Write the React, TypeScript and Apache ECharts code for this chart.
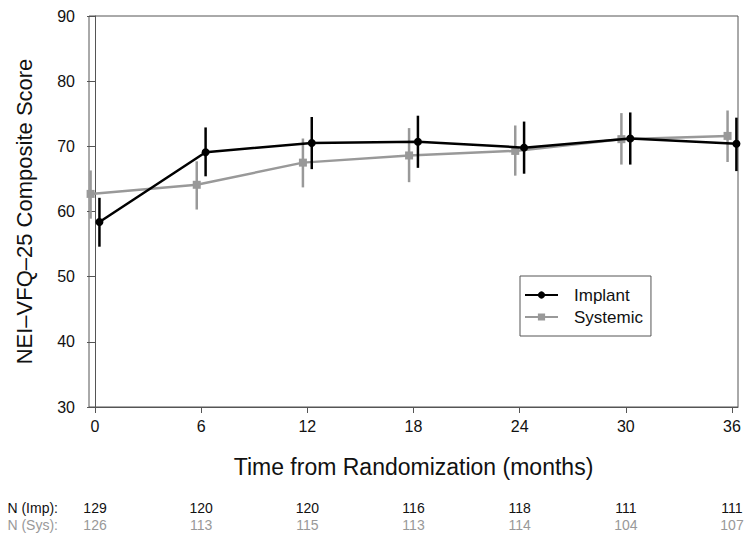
import React, { useEffect, useRef } from "react";
import * as echarts from "echarts";

const months = [0, 6, 12, 18, 24, 30, 36];
const implantMean = [58.4, 69.1, 70.5, 70.7, 69.8, 71.2, 70.4];
const implantLow = [54.6, 65.4, 66.5, 66.7, 65.8, 67.2, 66.2];
const implantHigh = [62.1, 72.9, 74.5, 74.7, 73.8, 75.2, 74.4];
const systemicMean = [62.7, 64.1, 67.5, 68.6, 69.3, 71.1, 71.6];
const systemicLow = [58.9, 60.3, 63.7, 64.5, 65.5, 67.2, 67.6];
const systemicHigh = [66.3, 67.7, 71.2, 72.8, 73.2, 75.1, 75.5];
const nImp = [129, 120, 120, 116, 118, 111, 111];
const nSys = [126, 113, 115, 113, 114, 104, 107];
const yTicks = [30, 40, 50, 60, 70, 80, 90];

const FONT = "'Liberation Sans', Arial, Helvetica, sans-serif";
const BLACK = "#000000";
const GREY = "#999999";
const IMP_OFFSET = 0.25;
const SYS_OFFSET = -0.25;

function errorBars(offset: number, low: number[], high: number[], color: string) {
  return {
    type: "custom",
    silent: true,
    z: color === BLACK ? 4 : 2,
    data: months.map((m, i) => [m + offset, low[i], high[i]]),
    encode: { x: 0, y: [1, 2] },
    renderItem: (params: any, api: any) => {
      const x = api.value(0);
      const p1 = api.coord([x, api.value(1)]);
      const p2 = api.coord([x, api.value(2)]);
      return {
        type: "line",
        shape: { x1: p1[0], y1: p1[1], x2: p2[0], y2: p2[1] },
        style: { stroke: color, lineWidth: 2.5 },
      };
    },
  };
}

function countAxis(values: number[], name: string, color: string, offset: number) {
  return {
    type: "value",
    gridIndex: 0,
    position: "bottom",
    offset,
    min: -0.34,
    max: 36.34,
    name,
    nameLocation: "start",
    nameGap: 31,
    nameTextStyle: { color, fontSize: 14, fontFamily: FONT, verticalAlign: "middle" },
    axisLine: { show: false },
    axisTick: { show: false },
    splitLine: { show: false },
    axisLabel: {
      customValues: months,
      margin: 0,
      verticalAlign: "middle",
      color,
      fontSize: 14,
      fontFamily: FONT,
      formatter: (v: number) => {
        const i = months.indexOf(Math.round(v));
        return i >= 0 ? String(values[i]) : "";
      },
    },
  };
}

export default function App() {
  const ref = useRef<HTMLDivElement>(null);
  useEffect(() => {
    if (!ref.current) return;
    const chart = echarts.init(ref.current, undefined, { renderer: "svg" });
    chart.setOption({
      animation: false,
      backgroundColor: "#ffffff",
      textStyle: { fontFamily: FONT },
      grid: {
        left: 89,
        top: 16,
        width: 649,
        height: 391,
        show: true,
        borderColor: "#555555",
        borderWidth: 1,
        containLabel: false,
      },
      legend: {
        data: ["Implant", "Systemic"],
        orient: "vertical",
        left: 520,
        top: 276,
        padding: [9, 8, 9, 4],
        itemGap: 2,
        itemWidth: 33,
        itemHeight: 9,
        borderColor: "#555555",
        borderWidth: 1,
        backgroundColor: "#ffffff",
        textStyle: { fontSize: 17, fontFamily: FONT, color: "#111111", lineHeight: 20, padding: [0, 0, 0, 11] },
      },
      xAxis: [
        {
          type: "value",
          min: -0.34,
          max: 36.34,
          name: "Time from Randomization (months)",
          nameLocation: "middle",
          nameGap: 48,
          nameTextStyle: { fontSize: 23, color: "#111111", fontFamily: FONT },
          axisLine: { show: true, lineStyle: { color: "#555555" } },
          axisTick: { show: true, customValues: months, length: 6, lineStyle: { color: "#555555" } },
          axisLabel: { customValues: months, margin: 11, fontSize: 16, color: "#111111", fontFamily: FONT },
          splitLine: { show: false },
        },
        countAxis(nImp, "N (Imp):", "#111111", 101),
        countAxis(nSys, "N (Sys):", GREY, 118),
      ],
      yAxis: {
        type: "value",
        min: 30,
        max: 90,
        interval: 10,
        name: "NEI\u2013VFQ\u201325 Composite Score",
        nameLocation: "middle",
        nameGap: 54,
        nameTextStyle: { fontSize: 22, color: "#111111", fontFamily: FONT },
        axisLine: { show: true, lineStyle: { color: "#555555" } },
        axisTick: { show: true, length: 8, lineStyle: { color: "#555555" } },
        axisLabel: {
          margin: 14,
          fontSize: 16,
          color: "#111111",
          fontFamily: FONT,
          formatter: (v: number) => (yTicks.includes(v) ? String(v) : ""),
        },
        splitLine: { show: false },
      },
      series: [
        errorBars(SYS_OFFSET, systemicLow, systemicHigh, GREY),
        {
          name: "Systemic",
          type: "line",
          z: 3,
          data: months.map((m, i) => [m + SYS_OFFSET, systemicMean[i]]),
          symbol: "rect",
          symbolSize: 8,
          color: GREY,
          lineStyle: { color: GREY, width: 2.5 },
          itemStyle: { color: GREY },
        },
        errorBars(IMP_OFFSET, implantLow, implantHigh, BLACK),
        {
          name: "Implant",
          type: "line",
          z: 5,
          data: months.map((m, i) => [m + IMP_OFFSET, implantMean[i]]),
          symbol: "circle",
          symbolSize: 8,
          color: BLACK,
          lineStyle: { color: BLACK, width: 2.5 },
          itemStyle: { color: BLACK },
        },
      ],
    });
    return () => chart.dispose();
  }, []);
  return (
    <div
      ref={ref}
      style={{ position: "fixed", left: 0, top: 0, width: 754, height: 543, background: "#fff" }}
    />
  );
}
